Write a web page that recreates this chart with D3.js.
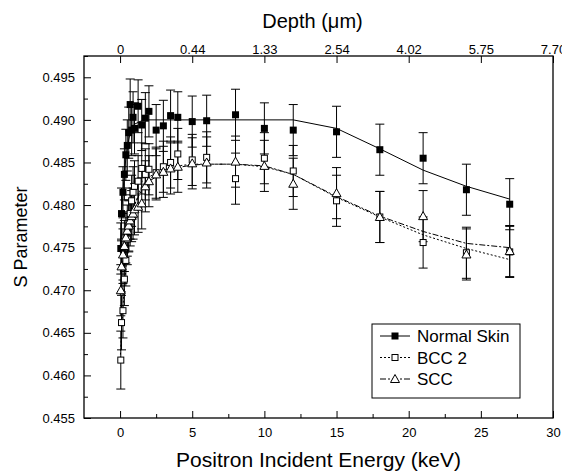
<!DOCTYPE html>
<html>
<head>
<meta charset="utf-8">
<script src="https://cdn.jsdelivr.net/npm/d3@7"></script>
<style>
  html, body { margin: 0; padding: 0; background: #fff; }
  svg { display: block; font-family: "Liberation Sans", Arial, sans-serif; }
</style>
</head>
<body>
<svg id="chart" width="562" height="472"></svg>
<script>
// ---------------- data ----------------
const energies = [0.05, 0.1, 0.2, 0.3, 0.4, 0.5, 0.6, 0.7, 0.8, 0.9, 1.0, 1.25, 1.5, 1.75, 2.0, 2.5, 3.0, 3.5, 4.0, 5, 6, 8, 10, 12, 15, 18, 21, 24, 27];

const normalS = [0.4749, 0.4790, 0.4815, 0.4836, 0.4859, 0.4870, 0.4885, 0.4918, 0.4888, 0.4903, 0.4890, 0.4916, 0.4894, 0.4902, 0.4910, 0.4888, 0.4893, 0.4905, 0.4903, 0.4898, 0.4899, 0.4906, 0.4890, 0.4888, 0.4886, 0.4865, 0.4855, 0.4818, 0.4801];
const normalErr = [0.0030, 0.0030, 0.0030, 0.0030, 0.0030, 0.0030, 0.0030, 0.0030, 0.0030, 0.0030, 0.0030, 0.0031, 0.0030, 0.0030, 0.0030, 0.0030, 0.0030, 0.0030, 0.0030, 0.0030, 0.0030, 0.0030, 0.0030, 0.0030, 0.0030, 0.0030, 0.0030, 0.0030, 0.0030];

const bccS = [0.4618, 0.4662, 0.4676, 0.4713, 0.4735, 0.4760, 0.4775, 0.4790, 0.4805, 0.4815, 0.4822, 0.4828, 0.4843, 0.4836, 0.4842, 0.4838, 0.4845, 0.4850, 0.4860, 0.4853, 0.4856, 0.4831, 0.4855, 0.4840, 0.4805, 0.4786, 0.4756, 0.4744, 0.4745];
const bccErr = [0.0034, 0.0032, 0.0032, 0.0031, 0.0030, 0.0030, 0.0030, 0.0030, 0.0030, 0.0030, 0.0030, 0.0030, 0.0030, 0.0030, 0.0030, 0.0030, 0.0030, 0.0030, 0.0030, 0.0030, 0.0030, 0.0030, 0.0030, 0.0030, 0.0030, 0.0030, 0.0030, 0.0030, 0.0030];

const sccS = [0.4700, 0.4728, 0.4742, 0.4752, 0.4762, 0.4770, 0.4776, 0.4782, 0.4787, 0.4790, 0.4795, 0.4798, 0.4802, 0.4822, 0.4828, 0.4836, 0.4839, 0.4843, 0.4845, 0.4849, 0.4850, 0.4851, 0.4846, 0.4825, 0.4814, 0.4786, 0.4787, 0.4742, 0.4746];
const sccErr = [0.0030, 0.0030, 0.0030, 0.0030, 0.0030, 0.0030, 0.0030, 0.0030, 0.0030, 0.0030, 0.0030, 0.0030, 0.0030, 0.0030, 0.0030, 0.0030, 0.0030, 0.0030, 0.0030, 0.0030, 0.0030, 0.0030, 0.0030, 0.0030, 0.0030, 0.0030, 0.0030, 0.0030, 0.0030];

// fitted curves
const fitE = [0, 0.1, 0.2, 0.3, 0.5, 0.7, 1.0, 1.5, 2, 3, 4, 5, 6, 8, 10, 12, 15, 18, 21, 24, 27];
const normalFit = [0.4745, 0.4785, 0.4815, 0.4840, 0.4868, 0.4885, 0.4895, 0.4899, 0.4900, 0.4900, 0.4900, 0.4900, 0.4900, 0.4900, 0.4900, 0.4900, 0.4890, 0.4866, 0.4841, 0.4822, 0.4807];
const bccFit = [0.4615, 0.4650, 0.4680, 0.4705, 0.4745, 0.4775, 0.4800, 0.4822, 0.4833, 0.4842, 0.4846, 0.4848, 0.4848, 0.4848, 0.4845, 0.4836, 0.4809, 0.4786, 0.4765, 0.4749, 0.4736];
const sccFit = [0.4695, 0.4720, 0.4740, 0.4752, 0.4770, 0.4785, 0.4800, 0.4818, 0.4828, 0.4838, 0.4844, 0.4847, 0.4848, 0.4848, 0.4846, 0.4836, 0.4810, 0.4787, 0.4769, 0.4755, 0.4750];

// axes
const xTicks = [0, 5, 10, 15, 20, 25, 30];
const xMinorTicks = [2.5, 7.5, 12.5, 17.5, 22.5, 27.5];
const depthLabels = ["0", "0.44", "1.33", "2.54", "4.02", "5.75", "7.70"];
const yTicks = [0.455, 0.460, 0.465, 0.470, 0.475, 0.480, 0.485, 0.490, 0.495];
const yMinorTicks = [0.4575, 0.4625, 0.4675, 0.4725, 0.4775, 0.4825, 0.4875, 0.4925, 0.4975];
const seriesNames = ["Normal Skin", "BCC 2", "SCC"];

// ---------------- drawing ----------------
const svg = d3.select("#chart");
const L = 84, R = 553, T = 56, B = 418;
const x = d3.scaleLinear().domain([-2.5, 30]).range([L, R]);
const y = d3.scaleLinear().domain([0.455, 0.4975]).range([B, T]);

function styleAxis(g, fs) {
  g.select(".domain").remove();
  g.selectAll("line").attr("stroke", "#000").attr("stroke-width", 1);
  g.selectAll("text").attr("font-size", fs).attr("fill", "#000")
    .attr("font-family", "'Liberation Sans', Arial, sans-serif");
}

// bottom axis
svg.append("g").attr("transform", `translate(0,${B})`)
  .call(d3.axisBottom(x).tickValues(xTicks).tickSize(-7).tickPadding(10).tickFormat(d3.format("d")))
  .call(g => styleAxis(g, 13));
svg.append("g").attr("transform", `translate(0,${B})`)
  .call(d3.axisBottom(x).tickValues(xMinorTicks).tickSize(-4).tickFormat(""))
  .call(g => styleAxis(g, 13));

// top axis (depth)
svg.append("g").attr("transform", `translate(0,${T})`)
  .call(d3.axisTop(x).tickValues(xTicks).tickSize(-7).tickPadding(2).tickFormat((d, i) => depthLabels[i]))
  .call(g => styleAxis(g, 13));

// left axis
svg.append("g").attr("transform", `translate(${L},0)`)
  .call(d3.axisLeft(y).tickValues(yTicks).tickSize(-7).tickPadding(9).tickFormat(d3.format(".3f")))
  .call(g => styleAxis(g, 13));
svg.append("g").attr("transform", `translate(${L},0)`)
  .call(d3.axisLeft(y).tickValues(yMinorTicks).tickSize(-4).tickFormat(""))
  .call(g => styleAxis(g, 13));

// frame
svg.append("rect").attr("x", L).attr("y", T).attr("width", R - L).attr("height", B - T)
  .attr("fill", "none").attr("stroke", "#000").attr("stroke-width", 1.3);

// titles
svg.append("text").attr("x", (L + R) / 2).attr("y", 467).attr("text-anchor", "middle")
  .attr("font-size", 21).text("Positron Incident Energy (keV)");
const dt = svg.append("text").attr("x", (L + R) / 2 - 6).attr("y", 28).attr("text-anchor", "middle")
  .attr("font-size", 20);
dt.append("tspan").text("Depth (");
dt.append("tspan").text("\u03bc");
dt.append("tspan").text("m)");
svg.append("text").attr("transform", `translate(27,${(T + B) / 2}) rotate(-90)`)
  .attr("text-anchor", "middle").attr("font-size", 18).text("S Parameter");

// plot group with clipping
svg.append("clipPath").attr("id", "clip").append("rect")
  .attr("x", L).attr("y", T).attr("width", R - L).attr("height", B - T);
const plot = svg.append("g").attr("clip-path", "url(#clip)");

const line = d3.line().x(d => x(d[0])).y(d => y(d[1]));
const series = [
  { name: seriesNames[0], s: normalS, e: normalErr, fit: normalFit, dash: null, marker: "fsq" },
  { name: seriesNames[1], s: bccS, e: bccErr, fit: bccFit, dash: "2,2", marker: "osq" },
  { name: seriesNames[2], s: sccS, e: sccErr, fit: sccFit, dash: "6,2,2,2", marker: "tri" }
];

function drawMarker(g, type, cx, cy) {
  if (type === "fsq") {
    g.append("rect").attr("x", cx - 3.5).attr("y", cy - 3.5).attr("width", 7).attr("height", 7)
      .attr("fill", "#000");
  } else if (type === "osq") {
    g.append("rect").attr("x", cx - 3).attr("y", cy - 3).attr("width", 6).attr("height", 6)
      .attr("fill", "#fff").attr("stroke", "#000").attr("stroke-width", 1);
  } else {
    g.append("path").attr("d", `M${cx},${cy - 4.5}L${cx + 4.5},${cy + 3.5}L${cx - 4.5},${cy + 3.5}Z`)
      .attr("fill", "#fff").attr("stroke", "#000").attr("stroke-width", 1);
  }
}

// fit lines
series.forEach(sr => {
  plot.append("path").datum(fitE.map((e, i) => [e, sr.fit[i]]))
    .attr("d", line).attr("fill", "none").attr("stroke", "#000").attr("stroke-width", 1)
    .attr("stroke-dasharray", sr.dash);
});

// error bars
series.forEach(sr => {
  const g = plot.append("g");
  energies.forEach((e, i) => {
    const cx = x(e), y0 = y(sr.s[i] - sr.e[i]), y1 = y(sr.s[i] + sr.e[i]);
    g.append("line").attr("x1", cx).attr("x2", cx).attr("y1", y0).attr("y2", y1)
      .attr("stroke", "#000").attr("stroke-width", 1);
    [y0, y1].forEach(yy => g.append("line").attr("x1", cx - 4.5).attr("x2", cx + 4.5)
      .attr("y1", yy).attr("y2", yy).attr("stroke", "#000").attr("stroke-width", 1));
  });
});

// markers
series.forEach(sr => {
  const g = plot.append("g");
  energies.forEach((e, i) => drawMarker(g, sr.marker, x(e), y(sr.s[i])));
});

// legend
const lg = svg.append("g");
lg.append("rect").attr("x", 372).attr("y", 324).attr("width", 148).attr("height", 74)
  .attr("fill", "#fff").attr("stroke", "#000").attr("stroke-width", 1);
series.forEach((sr, i) => {
  const ry = 336 + i * 21.5;
  lg.append("line").attr("x1", 380).attr("x2", 410).attr("y1", ry).attr("y2", ry)
    .attr("stroke", "#000").attr("stroke-width", 1).attr("stroke-dasharray", sr.dash);
  drawMarker(lg, sr.marker, 395, ry);
  lg.append("text").attr("x", 417).attr("y", ry + 6).attr("font-size", 17).text(sr.name);
});
</script>
</body>
</html>
